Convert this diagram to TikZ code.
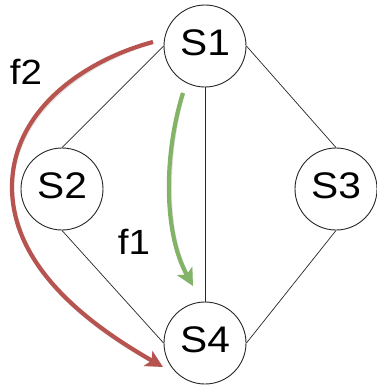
\documentclass[tikz,border=0pt]{standalone}
\usepackage{fontspec}
\setmainfont{Liberation Sans}
\newfontfamily\diagfont[FakeStretch=1.1]{Liberation Sans}
\usetikzlibrary{arrows.meta}
\definecolor{flowred}{HTML}{B85450}
\definecolor{flowgreen}{HTML}{82B366}
\tikzset{
  switch/.style={circle, draw=black!85, fill=white, line width=0.9pt, minimum size=82pt, inner sep=0pt},
  switchtext/.style={font=\diagfont\fontsize{37}{37}\selectfont, inner sep=0pt},
  link/.style={draw=black!85, line width=0.7pt},
  flowtip/.style={-{Stealth[length=17pt, width=17pt, inset=4pt]}},
  flow/.style={line width=4.2pt, flowtip},
  flowshadow/.style={line width=4.2pt, draw=black!25, opacity=0.45, flowtip},
  flowlabel/.style={font=\diagfont\fontsize{35}{35}\selectfont, inner sep=0pt}
}
\begin{document}
\begin{tikzpicture}[x=1pt, y=-1pt]
  \useasboundingbox (0,0) rectangle (377,386);
  % flow endpoints
  \coordinate (f2a) at (153,42);
  \coordinate (f2b) at (12,187);
  \coordinate (f2c) at (163,367);
  \coordinate (f1a) at (183,93);
  \coordinate (f1b) at (193,286);
  % flow f2
  \begin{scope}[shift={(1.2,1.5)}]
    \draw[flowshadow] (f2a) .. controls (85,60) and (12,110) .. (f2b)
      .. controls (12,270) and (95,328) .. (f2c);
  \end{scope}
  \draw[flow, draw=flowred] (f2a) .. controls (85,60) and (12,110) .. (f2b)
      .. controls (12,270) and (95,328) .. (f2c);
  % flow f1
  \begin{scope}[shift={(1.2,1.5)}]
    \draw[flowshadow] (f1a) .. controls (165,150) and (162,230) .. (f1b);
  \end{scope}
  \draw[flow, draw=flowgreen] (f1a) .. controls (165,150) and (162,230) .. (f1b);
  % switches, with their names set a little above the centre
  \foreach \name/\px/\py in {s1/205/46, s2/62/189, s3/336/189, s4/205/343} {
    \node[switch] (\name) at (\px,\py) {};
  }
  \node[switchtext] (t1) at ([yshift=3pt]s1.center) {S1};
  \node[switchtext] (t2) at ([yshift=3pt]s2.center) {S2};
  \node[switchtext] (t3) at ([yshift=3pt]s3.center) {S3};
  \node[switchtext] (t4) at ([yshift=3pt]s4.center) {S4};
  % links
  \draw[link] (s1.west) -- (s2.north);
  \draw[link] (s1.east) -- (s3.north);
  \draw[link] (s1.south) -- (s4.north);
  \draw[link] (s2.south) -- (s4.west);
  \draw[link] (s3.south) -- (s4.east);
  % labels
  \node[flowlabel] (l2) at (26,72) {f2};
  \node[flowlabel] (l1) at (134,242) {f1};
\end{tikzpicture}
\end{document}
